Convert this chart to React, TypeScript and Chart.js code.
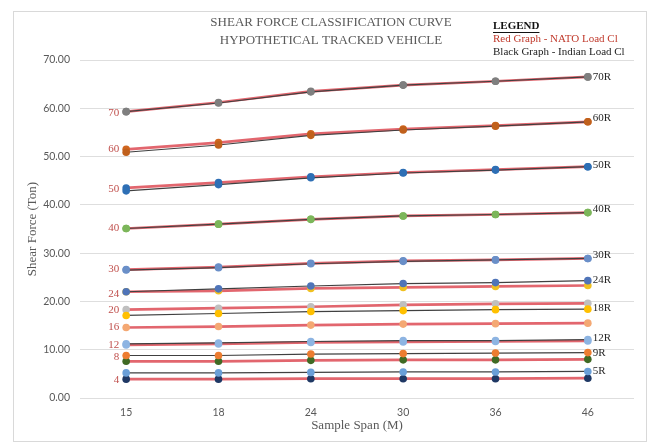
import React, { useEffect, useRef } from "react";
import { Chart, registerables } from "chart.js";

Chart.register(...registerables);

// ---------- data ----------
const spans = ["15", "18", "24", "30", "36", "46"];
const yTicks = [0, 10, 20, 30, 40, 50, 60, 70];

const titleLines = ["SHEAR FORCE CLASSIFICATION CURVE", "HYPOTHETICAL TRACKED VEHICLE"];
const legendLines = ["LEGEND", "Red Graph - NATO Load Cl", "Black Graph - Indian Load Cl"];
const xTitle = "Sample Span (M)";
const yTitle = "Shear Force (Ton)";

// NATO load classes (red graph)
const natoLabels = ["70", "60", "50", "40", "30", "24", "20", "16", "12", "8", "4"];
const nato70 = [59.3, 61.2, 63.5, 64.8, 65.6, 66.5];
const nato60 = [51.5, 52.9, 54.7, 55.7, 56.4, 57.2];
const nato50 = [43.5, 44.6, 45.8, 46.7, 47.3, 47.9];
const nato40 = [35.1, 36.0, 37.0, 37.7, 38.0, 38.4];
const nato30 = [26.6, 27.1, 27.9, 28.4, 28.6, 28.9];
const nato24 = [22.0, 22.2, 22.7, 22.9, 23.1, 23.3];
const nato20 = [18.3, 18.6, 18.9, 19.3, 19.5, 19.6];
const nato16 = [14.6, 14.8, 15.1, 15.3, 15.4, 15.5];
const nato12 = [11.0, 11.2, 11.5, 11.6, 11.7, 11.8];
const nato8 = [7.6, 7.6, 7.8, 7.9, 7.9, 8.0];
const nato4 = [3.9, 3.9, 4.0, 4.0, 4.0, 4.1];

// Indian load classes (black graph)
const indianLabels = ["70R", "60R", "50R", "40R", "30R", "24R", "18R", "12R", "9R", "5R"];
const ind70 = [59.3, 61.1, 63.4, 64.8, 65.6, 66.5];
const ind60 = [50.9, 52.4, 54.4, 55.5, 56.3, 57.2];
const ind50 = [42.9, 44.2, 45.6, 46.6, 47.2, 47.9];
const ind40 = [35.1, 36.0, 37.0, 37.7, 38.0, 38.4];
const ind30 = [26.5, 27.0, 27.8, 28.3, 28.6, 28.9];
const ind24 = [22.0, 22.6, 23.2, 23.7, 23.9, 24.3];
const ind18 = [17.1, 17.5, 17.9, 18.1, 18.3, 18.4];
const ind12 = [11.2, 11.4, 11.7, 11.9, 11.9, 12.1];
const ind9 = [8.8, 8.8, 9.1, 9.2, 9.3, 9.4];
const ind5 = [5.2, 5.2, 5.3, 5.4, 5.4, 5.5];

const natoSeries = [nato70, nato60, nato50, nato40, nato30, nato24, nato20, nato16, nato12, nato8, nato4];
const indianSeries = [ind70, ind60, ind50, ind40, ind30, ind24, ind18, ind12, ind9, ind5];

// ---------- styles ----------
const natoMarkers = ["#7f7f7f", "#d0661f", "#2e6fb5", "#7cb65a", "#6a8fc8", "#f0c020", "#bfbfbf", "#f4a873", "#8db4e2", "#3f6a24", "#1f3864"];
const indianMarkers = ["#7f7f7f", "#c0601c", "#2e6fb5", "#7cb65a", "#6a8fc8", "#4f74b8", "#ffc000", "#8db4e2", "#ed7d31", "#6a9fd8"];
const natoLabelDy = [1, 0, 1, 0, 0, 2, 0, 0, 0, -4, 1];
const indianLabelDy = [0, -4, -2, -3, -3, -1, -1, -1, 0, 0];

const RED = "#e2666e";
const DARK = "#404040";
const SERIF = "'Liberation Serif', 'Times New Roman', serif";

const annotations = {
  id: "annotations",
  afterDraw(chart: any) {
    const c = chart.ctx;
    c.save();
    // outer frame
    c.strokeStyle = "#d9d9d9";
    c.lineWidth = 1;
    c.strokeRect(13.5, 11.5, 633, 430);

    // title
    c.fillStyle = "#595959";
    c.font = `13px ${SERIF}`;
    c.textAlign = "center";
    c.textBaseline = "middle";
    c.fillText(titleLines[0], 331, 23);
    c.fillText(titleLines[1], 331, 41);

    // legend box text
    c.textAlign = "left";
    c.font = `bold 11px ${SERIF}`;
    c.fillStyle = "#111111";
    c.fillText(legendLines[0], 493, 26);
    const w = c.measureText(legendLines[0]).width;
    c.fillRect(493, 32, w, 1);
    c.font = `11px ${SERIF}`;
    c.fillStyle = "#c0392b";
    c.fillText(legendLines[1], 493, 39.5);
    c.fillStyle = "#222222";
    c.fillText(legendLines[2], 493, 52.5);

    // axis titles
    c.fillStyle = "#595959";
    c.font = `13px ${SERIF}`;
    c.textAlign = "center";
    const area = chart.chartArea;
    c.fillText(xTitle, (area.left + area.right) / 2, 426);
    c.save();
    c.translate(33, (area.top + area.bottom) / 2);
    c.rotate(-Math.PI / 2);
    c.fillText(yTitle, 0, 0);
    c.restore();

    // series labels
    c.font = `11px ${SERIF}`;
    chart.data.datasets.forEach((ds: any, i: number) => {
      const meta = chart.getDatasetMeta(i);
      const pts = meta.data;
      if (!pts.length) return;
      if (ds.side === "left") {
        const p = pts[0];
        c.fillStyle = "#c0504d";
        c.textAlign = "right";
        c.fillText(ds.tag, p.x - 7, p.y + ds.dy);
      } else {
        const p = pts[pts.length - 1];
        c.fillStyle = "#262626";
        c.textAlign = "left";
        c.fillText(ds.tag, p.x + 5, p.y + ds.dy);
      }
    });
    c.restore();
  },
};

export default function App() {
  const ref = useRef<HTMLCanvasElement>(null);

  useEffect(() => {
    const canvas = ref.current!;
    const datasets: any[] = [];
    indianSeries.forEach((vals, i) => {
      datasets.push({
        label: indianLabels[i],
        tag: indianLabels[i],
        side: "right",
        dy: indianLabelDy[i],
        data: vals,
        borderColor: DARK,
        borderWidth: 1.2,
        backgroundColor: indianMarkers[i],
        pointBackgroundColor: indianMarkers[i],
        pointBorderColor: indianMarkers[i],
        pointBorderWidth: 0,
        pointRadius: 3.8,
        tension: 0,
        order: 0,
      });
    });
    natoSeries.forEach((vals, i) => {
      datasets.push({
        label: natoLabels[i],
        tag: natoLabels[i],
        side: "left",
        dy: natoLabelDy[i],
        data: vals,
        borderColor: RED,
        borderWidth: 2.7,
        backgroundColor: natoMarkers[i],
        pointBackgroundColor: natoMarkers[i],
        pointBorderColor: natoMarkers[i],
        pointBorderWidth: 0,
        pointRadius: 3.8,
        tension: 0,
        order: 1,
      });
    });

    const chart = new Chart(canvas, {
      type: "line",
      data: { labels: spans, datasets },
      options: {
        responsive: false,
        animation: false,
        layout: { padding: { left: 0, top: 60, right: 15, bottom: 0 } },
        plugins: {
          legend: { display: false },
          title: { display: false },
          tooltip: { enabled: false },
        },
        scales: {
          x: {
            offset: true,
            grid: { display: false, drawTicks: false },
            border: { display: false },
            ticks: {
              color: "#595959",
              font: { family: "Lato", size: 10.5 },
              padding: 8,
            },
            afterFit: (s: any) => {
              s.height = 45;
            },
          },
          y: {
            min: 0,
            max: 70,
            afterBuildTicks: (s: any) => {
              s.ticks = yTicks.map((v) => ({ value: v }));
            },
            grid: { color: "#dedede", drawTicks: false, lineWidth: 1 },
            border: { display: false },
            ticks: {
              color: "#595959",
              font: { family: "Lato", size: 10.5 },
              padding: 10,
              callback: (v: any) => Number(v).toFixed(2),
            },
            afterFit: (s: any) => {
              s.width = 80;
            },
          },
        },
      },
      plugins: [annotations],
    });
    return () => chart.destroy();
  }, []);

  return (
    <div style={{ position: "fixed", left: 0, top: 0, width: 649, height: 443, background: "#ffffff" }}>
      <canvas ref={ref} width={649} height={443} style={{ width: 649, height: 443, display: "block" }} />
    </div>
  );
}
